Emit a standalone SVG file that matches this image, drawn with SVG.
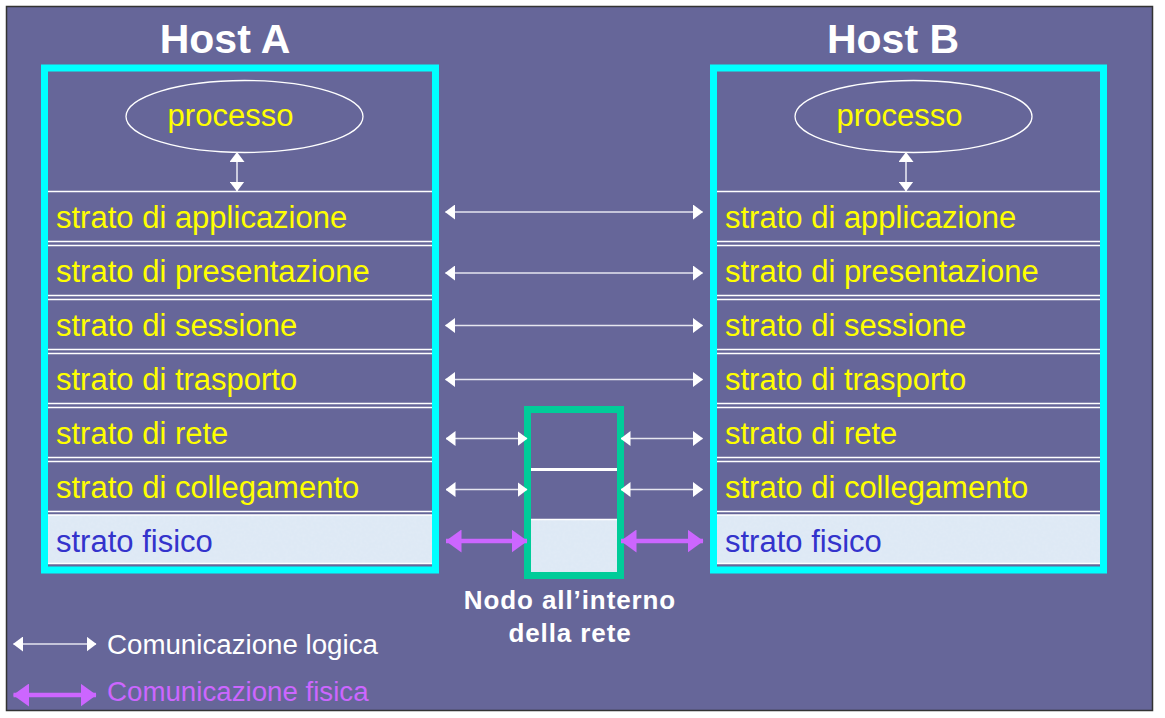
<svg xmlns="http://www.w3.org/2000/svg" width="1165" height="718" viewBox="0 0 1165 718">
<defs>
<style>
.title{font-family:"Liberation Sans",Arial,sans-serif;font-weight:bold;font-size:41px;fill:#ffffff}
.layer{font-family:"Liberation Sans",Arial,sans-serif;font-size:31px;fill:#ffff00}
.phys{fill:#3333cc}
.sep{stroke:#ffffff;stroke-width:1.5;fill:none}
.host{fill:none;stroke:#00ffff;stroke-width:7}
.logic{stroke:#e6e6f0;stroke-width:1.6;fill:none;marker-start:url(#wa);marker-end:url(#wa)}
.fis{stroke:#cc66ff;stroke-width:4.5;fill:none;marker-start:url(#pa);marker-end:url(#pa)}
.node{font-family:"Liberation Sans",Arial,sans-serif;font-weight:bold;font-size:26px;fill:#ffffff;letter-spacing:0.9px}
.leg{font-family:"Liberation Sans",Arial,sans-serif;font-size:27.7px}
</style>
<marker id="wa" viewBox="0 0 10 15" markerWidth="10" markerHeight="15" refX="9.5" refY="7.5" orient="auto-start-reverse" markerUnits="userSpaceOnUse">
<path d="M0,0 L10,7.5 L0,15 Z" fill="#ffffff"/>
</marker>
<marker id="pa" viewBox="0 0 16 23" markerWidth="16" markerHeight="23" refX="15.5" refY="11.5" orient="auto-start-reverse" markerUnits="userSpaceOnUse">
<path d="M0,0 L16,11.5 L0,23 Z" fill="#cc66ff"/>
</marker>
<filter id="tex" x="0" y="0" width="1" height="1">
<feTurbulence type="fractalNoise" baseFrequency="0.35" numOctaves="2" seed="3" result="n"/>
<feColorMatrix in="n" type="matrix" values="0 0 0 0 0.78  0 0 0 0 0.84  0 0 0 0 0.92  0 0 0 0.6 0" result="c"/>
<feComposite in="c" in2="SourceGraphic" operator="atop"/>
</filter>
</defs>
<rect x="0" y="0" width="1165" height="718" fill="#ffffff"/>
<rect x="6.5" y="6.5" width="1146" height="704" fill="#666699" stroke="#333333" stroke-width="1.5"/>

<g id="hostA">
<text class="title" x="225" y="53" text-anchor="middle">Host A</text>
<rect x="48" y="515" width="384" height="48" fill="#dce8f5" filter="url(#tex)"/>
<ellipse cx="244.5" cy="116.5" rx="118.5" ry="36" fill="none" stroke="#ffffff" stroke-width="1.3"/>
<text class="layer" x="230.5" y="125.5" text-anchor="middle">processo</text>
<path class="sep" d="M48,191.5H432 M48,241.5H432 M48,245.5H432 M48,295.5H432 M48,299.5H432 M48,349.5H432 M48,353.5H432 M48,403.5H432 M48,407.5H432 M48,457.5H432 M48,461.5H432 M48,511.5H432 M48,515H432 M48,563.5H432"/>
<text class="layer" x="56" y="228">strato di applicazione</text>
<text class="layer" x="56" y="282">strato di presentazione</text>
<text class="layer" x="56" y="336">strato di sessione</text>
<text class="layer" x="56" y="390">strato di trasporto</text>
<text class="layer" x="56" y="444">strato di rete</text>
<text class="layer" x="56" y="498">strato di collegamento</text>
<text class="layer phys" x="56" y="552">strato fisico</text>
<rect class="host" x="44.5" y="68" width="391" height="502"/>
</g>

<g id="hostB">
<text class="title" x="893" y="53" text-anchor="middle">Host B</text>
<rect x="717" y="515" width="383" height="48" fill="#dce8f5" filter="url(#tex)"/>
<ellipse cx="913.5" cy="116.5" rx="118.5" ry="36" fill="none" stroke="#ffffff" stroke-width="1.3"/>
<text class="layer" x="899.5" y="125.5" text-anchor="middle">processo</text>
<path class="sep" d="M717,191.5H1100 M717,241.5H1100 M717,245.5H1100 M717,295.5H1100 M717,299.5H1100 M717,349.5H1100 M717,353.5H1100 M717,403.5H1100 M717,407.5H1100 M717,457.5H1100 M717,461.5H1100 M717,511.5H1100 M717,515H1100 M717,563.5H1100"/>
<text class="layer" x="725" y="228">strato di applicazione</text>
<text class="layer" x="725" y="282">strato di presentazione</text>
<text class="layer" x="725" y="336">strato di sessione</text>
<text class="layer" x="725" y="390">strato di trasporto</text>
<text class="layer" x="725" y="444">strato di rete</text>
<text class="layer" x="725" y="498">strato di collegamento</text>
<text class="layer phys" x="725" y="552">strato fisico</text>
<rect class="host" x="713.5" y="68" width="390" height="502"/>
</g>

<g id="node">
<rect x="531" y="519" width="86" height="53" fill="#dce8f5" filter="url(#tex)"/>
<line x1="531" y1="519.5" x2="617" y2="519.5" stroke="#ffffff" stroke-width="1.5"/>
<line x1="531" y1="469.5" x2="617" y2="469.5" stroke="#ffffff" stroke-width="3"/>
<rect x="527.5" y="409.5" width="93" height="166" fill="none" stroke="#00cc99" stroke-width="7"/>
<text class="node" x="570" y="609" text-anchor="middle">Nodo all’interno</text>
<text class="node" x="570" y="642" text-anchor="middle">della rete</text>
</g>

<g id="connectors">
<line class="logic" x1="237" y1="152.5" x2="237" y2="191"/>
<line class="logic" x1="906" y1="152.5" x2="906" y2="191"/>
<line class="logic" x1="445.5" y1="212" x2="702.5" y2="212"/>
<line class="logic" x1="445.5" y1="273" x2="702.5" y2="273"/>
<line class="logic" x1="445.5" y1="325.5" x2="702.5" y2="325.5"/>
<line class="logic" x1="445.5" y1="379.5" x2="702.5" y2="379.5"/>
<line class="logic" x1="446" y1="438.5" x2="527" y2="438.5"/>
<line class="logic" x1="621" y1="438.5" x2="702.5" y2="438.5"/>
<line class="logic" x1="446" y1="489.5" x2="527" y2="489.5"/>
<line class="logic" x1="621" y1="489.5" x2="702.5" y2="489.5"/>
<line class="fis" x1="446" y1="541" x2="527" y2="541"/>
<line class="fis" x1="621" y1="541" x2="703" y2="541"/>
</g>

<g id="legend">
<line class="logic" x1="13.5" y1="644" x2="96" y2="644"/>
<text class="leg" x="107" y="654" fill="#ffffff">Comunicazione logica</text>
<line class="fis" x1="13.5" y1="695" x2="96" y2="695"/>
<text class="leg" x="107" y="701" fill="#cc66ff">Comunicazione fisica</text>
</g>
</svg>
